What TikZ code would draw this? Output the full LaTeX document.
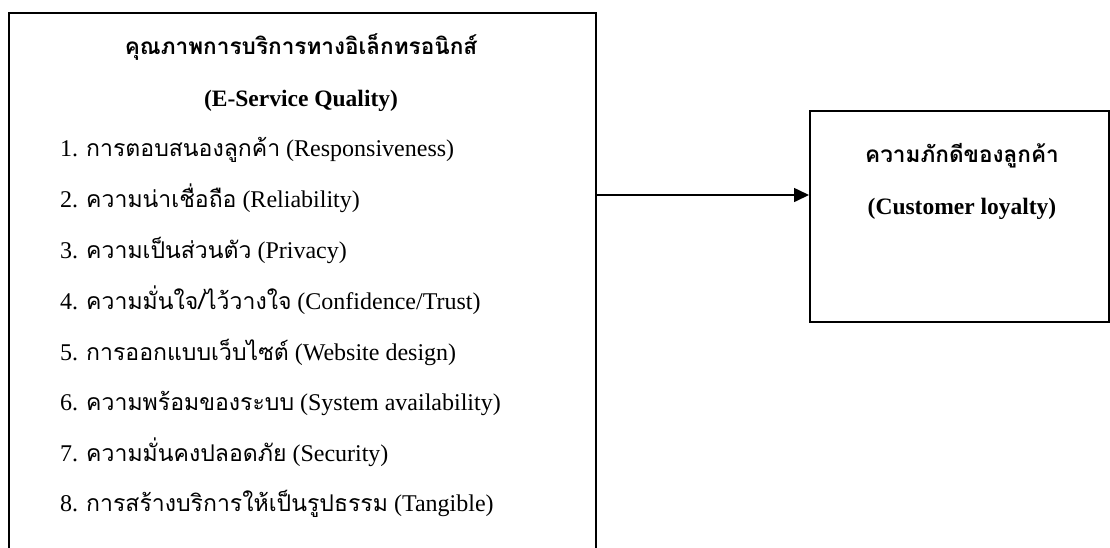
\documentclass[tikz,border=0pt]{standalone}
\usepackage{fontspec}
\setmainfont{Liberation Serif}
\newfontfamily\thai[Script=Thai,Scale=0.96]{Loma}
\usetikzlibrary{arrows.meta}
\tikzset{
  x=1pt,y=1pt,
  frame/.style={draw=black,line width=1.6pt,rectangle,inner sep=0pt,anchor=north west},
  headtext/.style={font=\fontsize{23.5}{28}\selectfont\bfseries,anchor=center,inner sep=0pt,text height=18pt,text depth=6pt},
  itemtext/.style={font=\fontsize{24}{28}\selectfont,anchor=west,inner sep=0pt,text height=18pt,text depth=6pt},
  link/.style={line width=1.6pt,-{Triangle[length=15pt,width=14pt]}}
}
\begin{document}
\begin{tikzpicture}
\useasboundingbox (0,0) rectangle (1110,-547);
\clip (0,0) rectangle (1110,-547);
\node[frame,minimum width=587pt,minimum height=620pt] (lbox) at (8,-12) {};
\node[frame,minimum width=299pt,minimum height=211pt] (rbox) at (809,-110) {};
\node[headtext] (ltitle) at (301,-48) {{\thai คุณภาพการบริการทางอิเล็กทรอนิกส์}};
\node[headtext] (lsub) at (301,-100) {(E-Service Quality)};
\node[itemtext] (i1) at (60,-150) {1. {\thai การตอบสนองลูกค้า} (Responsiveness)};
\node[itemtext] (i2) at (60,-201) {2. {\thai ความน่าเชื่อถือ} (Reliability)};
\node[itemtext] (i3) at (60,-252) {3. {\thai ความเป็นส่วนตัว} (Privacy)};
\node[itemtext] (i4) at (60,-303) {4. {\thai ความมั่นใจ/ไว้วางใจ} (Confidence/Trust)};
\node[itemtext] (i5) at (60,-354) {5. {\thai การออกแบบเว็บไซต์} (Website design)};
\node[itemtext] (i6) at (60,-404) {6. {\thai ความพร้อมของระบบ} (System availability)};
\node[itemtext] (i7) at (60,-455) {7. {\thai ความมั่นคงปลอดภัย} (Security)};
\node[itemtext] (i8) at (60,-505) {8. {\thai การสร้างบริการให้เป็นรูปธรรม} (Tangible)};
\node[headtext] (rtitle) at (962,-156) {{\thai ความภักดีของลูกค้า}};
\node[headtext] (rsub) at (962,-208) {(Customer loyalty)};
\coordinate (ay) at (0,-195);
\draw[link] (lbox.east |- ay) -- (rbox.west |- ay);
\end{tikzpicture}
\end{document}
